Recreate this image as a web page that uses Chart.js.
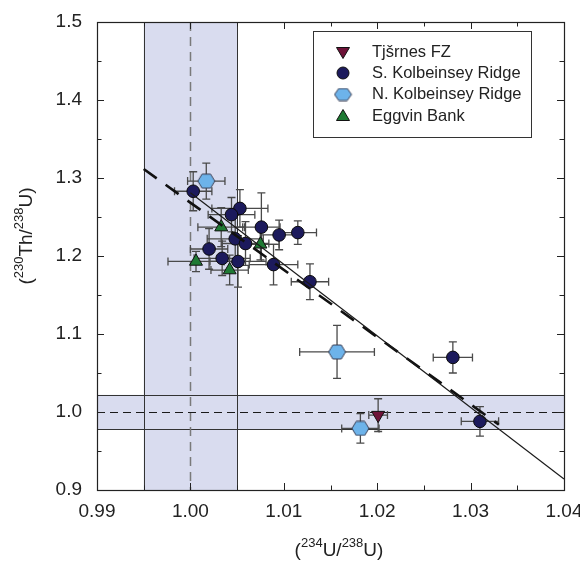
<!DOCTYPE html>
<html>
<head>
<meta charset="utf-8">
<script src="https://cdn.jsdelivr.net/npm/chart.js@4.4.0/dist/chart.umd.min.js"></script>
<style>
  html, body { margin: 0; padding: 0; background: #fff; }
  #chart { display: block; }
</style>
</head>
<body>
<canvas id="chart" width="580" height="563"></canvas>
<script>
// (234U/238U) vs (230Th/238U) activity ratios, Kolbeinsey Ridge area basalts

// Tjšrnes FZ
const tjornesX = [1.0201];
const tjornesY = [0.996];
const tjornesXErr = [0.0010];
const tjornesYErr = [0.021];

// S. Kolbeinsey Ridge
const southX = [1.0003, 1.0053, 1.0044, 1.0076, 1.0095, 1.0115, 1.0048, 1.0059,
                1.0020, 1.0034, 1.0051, 1.0089, 1.0128, 1.0281, 1.0310];
const southY = [1.283, 1.261, 1.253, 1.237, 1.227, 1.230, 1.222, 1.216,
                1.209, 1.197, 1.193, 1.189, 1.167, 1.070, 0.988];
const southXErr = [0.0020, 0.0030, 0.0025, 0.0020, 0.0020, 0.0020, 0.0030, 0.0025,
                   0.0020, 0.0030, 0.0030, 0.0026, 0.0020, 0.0021, 0.0020];
const southYErr = [0.025, 0.024, 0.022, 0.044, 0.019, 0.015, 0.030, 0.028,
                   0.026, 0.022, 0.033, 0.026, 0.023, 0.020, 0.019];

// N. Kolbeinsey Ridge
const northX = [1.0017, 1.0157, 1.0182];
const northY = [1.296, 1.077, 0.979];
const northXErr = [0.0020, 0.0040, 0.0020];
const northYErr = [0.023, 0.034, 0.019];

// Eggvin Bank
const eggvinX = [1.0033, 1.0075, 1.0006, 1.0042];
const eggvinY = [1.237, 1.215, 1.193, 1.182];
const eggvinXErr = [0.0025, 0.0020, 0.0030, 0.0020];
const eggvinYErr = [0.025, 0.020, 0.013, 0.019];

// regression lines
const fitSolidX = [1.0000, 1.0400];
const fitSolidY = [1.281, 0.914];
const fitDashX = [0.9950, 1.0330];
const fitDashY = [1.3115, 0.984];

// secular equilibrium bands
const uBand = [0.995, 1.005];
const thBand = [0.978, 1.022];
const equilibrium = 1.0;

const FONT = "'Liberation Sans', Arial, sans-serif";
const BAND_FILL = '#d9dcef';
const INK = '#222';

function toPoints(xs, ys) {
  return xs.map((v, i) => ({ x: v, y: ys[i] }));
}

// flat-topped hexagon marker
function hexagon(w, h, fill, stroke) {
  const c = document.createElement('canvas');
  c.width = w + 2;
  c.height = h + 2;
  const g = c.getContext('2d');
  const cx = c.width / 2, cy = c.height / 2, hw = w / 2, hh = h / 2, q = w / 4;
  g.beginPath();
  g.moveTo(cx - hw, cy);
  g.lineTo(cx - q, cy - hh);
  g.lineTo(cx + q, cy - hh);
  g.lineTo(cx + hw, cy);
  g.lineTo(cx + q, cy + hh);
  g.lineTo(cx - q, cy + hh);
  g.closePath();
  g.fillStyle = fill;
  g.fill();
  g.lineWidth = 1;
  g.strokeStyle = stroke;
  g.stroke();
  return c;
}

const hexBig = hexagon(17, 14, '#6db3ea', '#3a3f55');
const hexSmall = hexagon(17, 12, '#6db3ea', '#3a3f55');

// text with superscript parts, centred on (x, y)
function drawRich(ctx, parts, x, y, size) {
  const big = size + 'px ' + FONT;
  const small = Math.round(size * 0.68) + 'px ' + FONT;
  let total = 0;
  parts.forEach(p => {
    ctx.font = p[1] ? small : big;
    total += ctx.measureText(p[0]).width;
  });
  let cx = x - total / 2;
  ctx.textAlign = 'left';
  ctx.textBaseline = 'middle';
  parts.forEach(p => {
    ctx.font = p[1] ? small : big;
    ctx.fillText(p[0], cx, p[1] ? y - size * 0.38 : y);
    cx += ctx.measureText(p[0]).width;
  });
}

function crisp(v) {
  return Math.round(v) + 0.5;
}

const frame = {
  id: 'frame',
  beforeDatasetsDraw(chart) {
    const { ctx, chartArea: a, scales: { x, y } } = chart;
    ctx.save();

    // equilibrium bands
    ctx.fillStyle = BAND_FILL;
    const bx0 = x.getPixelForValue(uBand[0]), bx1 = x.getPixelForValue(uBand[1]);
    const by0 = y.getPixelForValue(thBand[1]), by1 = y.getPixelForValue(thBand[0]);
    ctx.fillRect(bx0, a.top, bx1 - bx0, a.bottom - a.top);
    ctx.fillRect(a.left, by0, a.right - a.left, by1 - by0);

    ctx.strokeStyle = '#333';
    ctx.lineWidth = 1;
    ctx.beginPath();
    [bx0, bx1].forEach(px => { ctx.moveTo(crisp(px), a.top); ctx.lineTo(crisp(px), a.bottom); });
    [by0, by1].forEach(py => { ctx.moveTo(a.left, crisp(py)); ctx.lineTo(a.right, crisp(py)); });
    ctx.stroke();

    // equilibrium lines
    const ex = crisp(x.getPixelForValue(equilibrium));
    ctx.strokeStyle = '#7a7a7a';
    ctx.lineWidth = 1.5;
    ctx.setLineDash([9, 6]);
    ctx.beginPath();
    ctx.moveTo(ex, a.top);
    ctx.lineTo(ex, a.bottom);
    ctx.stroke();

    const ey = crisp(y.getPixelForValue(equilibrium));
    ctx.strokeStyle = '#1a1a1a';
    ctx.lineWidth = 1.2;
    ctx.setLineDash([8, 5]);
    ctx.beginPath();
    ctx.moveTo(a.left, ey);
    ctx.lineTo(a.right, ey);
    ctx.stroke();
    ctx.setLineDash([]);

    // error bars
    ctx.strokeStyle = '#4a4a4a';
    ctx.lineWidth = 1.3;
    const cap = 4;
    chart.data.datasets.forEach(ds => {
      if (!ds.xErr) return;
      ds.data.forEach((p, i) => {
        const px = x.getPixelForValue(p.x), py = y.getPixelForValue(p.y);
        const xl = x.getPixelForValue(p.x - ds.xErr[i]), xr = x.getPixelForValue(p.x + ds.xErr[i]);
        const yt = y.getPixelForValue(p.y + ds.yErr[i]), yb = y.getPixelForValue(p.y - ds.yErr[i]);
        ctx.beginPath();
        ctx.moveTo(xl, py); ctx.lineTo(xr, py);
        ctx.moveTo(xl, py - cap); ctx.lineTo(xl, py + cap);
        ctx.moveTo(xr, py - cap); ctx.lineTo(xr, py + cap);
        ctx.moveTo(px, yt); ctx.lineTo(px, yb);
        ctx.moveTo(px - cap, yt); ctx.lineTo(px + cap, yt);
        ctx.moveTo(px - cap, yb); ctx.lineTo(px + cap, yb);
        ctx.stroke();
      });
    });
    ctx.restore();
  },
  afterDraw(chart) {
    const { ctx, chartArea: a, scales: { x, y } } = chart;
    ctx.save();

    // plot border
    ctx.strokeStyle = INK;
    ctx.lineWidth = 1.2;
    ctx.strokeRect(crisp(a.left), crisp(a.top), Math.round(a.right - a.left), Math.round(a.bottom - a.top));

    // inward ticks on all four sides, minor ticks halfway
    const major = 7, minor = 4.5;
    ctx.lineWidth = 1;
    ctx.beginPath();
    const xv = x.ticks.map(t => t.value);
    xv.forEach((v, i) => {
      const px = crisp(x.getPixelForValue(v));
      ctx.moveTo(px, a.bottom); ctx.lineTo(px, a.bottom - major);
      ctx.moveTo(px, a.top); ctx.lineTo(px, a.top + major);
      if (i < xv.length - 1) {
        const mx = crisp(x.getPixelForValue((v + xv[i + 1]) / 2));
        ctx.moveTo(mx, a.bottom); ctx.lineTo(mx, a.bottom - minor);
        ctx.moveTo(mx, a.top); ctx.lineTo(mx, a.top + minor);
      }
    });
    const yv = y.ticks.map(t => t.value);
    yv.forEach((v, i) => {
      const py = crisp(y.getPixelForValue(v));
      ctx.moveTo(a.left, py); ctx.lineTo(a.left + major, py);
      ctx.moveTo(a.right, py); ctx.lineTo(a.right - major, py);
      if (i < yv.length - 1) {
        const my = crisp(y.getPixelForValue((v + yv[i + 1]) / 2));
        ctx.moveTo(a.left, my); ctx.lineTo(a.left + minor, my);
        ctx.moveTo(a.right, my); ctx.lineTo(a.right - minor, my);
      }
    });
    ctx.stroke();

    // axis titles
    ctx.fillStyle = INK;
    drawRich(ctx, [['(', 0], ['234', 1], ['U/', 0], ['238', 1], ['U)', 0]], 339, 551, 19);
    ctx.save();
    ctx.translate(27, 236);
    ctx.rotate(-Math.PI / 2);
    drawRich(ctx, [['(', 0], ['230', 1], ['Th/', 0], ['238', 1], ['U)', 0]], 0, 0, 19);
    ctx.restore();

    // legend
    const lx = 313, ly = 31, lw = 218, lh = 106;
    ctx.fillStyle = '#fff';
    ctx.fillRect(lx, ly, lw, lh);
    ctx.strokeStyle = '#333';
    ctx.lineWidth = 1;
    ctx.strokeRect(lx + 0.5, ly + 0.5, lw, lh);

    const sx = 343, tx = 372;
    const rows = [52, 73, 94.5, 116];
    const names = ['Tjšrnes FZ', 'S. Kolbeinsey Ridge', 'N. Kolbeinsey Ridge', 'Eggvin Bank'];

    ctx.lineWidth = 1;
    ctx.strokeStyle = '#111';
    // down triangle
    ctx.beginPath();
    ctx.moveTo(sx - 6.5, rows[0] - 4.5);
    ctx.lineTo(sx + 6.5, rows[0] - 4.5);
    ctx.lineTo(sx, rows[0] + 6.5);
    ctx.closePath();
    ctx.fillStyle = '#6e1238';
    ctx.fill(); ctx.stroke();
    // circle
    ctx.beginPath();
    ctx.arc(sx, rows[1], 6, 0, Math.PI * 2);
    ctx.fillStyle = '#1c1a5c';
    ctx.fill(); ctx.stroke();
    // hexagon
    ctx.drawImage(hexSmall, sx - hexSmall.width / 2, rows[2] - hexSmall.height / 2);
    // up triangle
    ctx.beginPath();
    ctx.moveTo(sx - 6.5, rows[3] + 4.5);
    ctx.lineTo(sx + 6.5, rows[3] + 4.5);
    ctx.lineTo(sx, rows[3] - 6.5);
    ctx.closePath();
    ctx.fillStyle = '#1f7a34';
    ctx.fill(); ctx.stroke();

    ctx.fillStyle = INK;
    ctx.font = '16.5px ' + FONT;
    ctx.textAlign = 'left';
    ctx.textBaseline = 'middle';
    names.forEach((n, i) => ctx.fillText(n, tx, rows[i]));

    ctx.restore();
  }
};

const ctx = document.getElementById('chart').getContext('2d');

new Chart(ctx, {
  type: 'scatter',
  data: {
    datasets: [
      {
        label: 'regression',
        data: toPoints(fitSolidX, fitSolidY),
        showLine: true,
        borderColor: '#1a1a1a',
        borderWidth: 1.2,
        pointRadius: 0,
        order: 0
      },
      {
        label: 'regression (dashed)',
        data: toPoints(fitDashX, fitDashY),
        showLine: true,
        borderColor: '#111',
        borderWidth: 2.6,
        borderDash: [16, 11],
        pointRadius: 0,
        order: 0
      },
      {
        label: 'Tjšrnes FZ',
        data: toPoints(tjornesX, tjornesY),
        xErr: tjornesXErr,
        yErr: tjornesYErr,
        pointStyle: 'triangle',
        rotation: 180,
        pointRadius: 7.5,
        backgroundColor: '#6e1238',
        borderColor: '#111',
        borderWidth: 1,
        order: 1
      },
      {
        label: 'S. Kolbeinsey Ridge',
        data: toPoints(southX, southY),
        xErr: southXErr,
        yErr: southYErr,
        pointStyle: 'circle',
        pointRadius: 6.3,
        backgroundColor: '#1c1a5c',
        borderColor: '#0a0a0a',
        borderWidth: 1,
        order: 2
      },
      {
        label: 'N. Kolbeinsey Ridge',
        data: toPoints(northX, northY),
        xErr: northXErr,
        yErr: northYErr,
        pointStyle: hexBig,
        order: 1
      },
      {
        label: 'Eggvin Bank',
        data: toPoints(eggvinX, eggvinY),
        xErr: eggvinXErr,
        yErr: eggvinYErr,
        pointStyle: 'triangle',
        pointRadius: 7.5,
        backgroundColor: '#1f7a34',
        borderColor: '#111',
        borderWidth: 1,
        order: 1
      }
    ]
  },
  options: {
    responsive: false,
    animation: false,
    layout: {
      padding: { top: 22, right: 16, left: 0, bottom: 0 },
      autoPadding: false
    },
    plugins: {
      legend: { display: false },
      tooltip: { enabled: false }
    },
    scales: {
      x: {
        type: 'linear',
        min: 0.99,
        max: 1.04,
        grid: { display: false, drawTicks: false },
        border: { display: false },
        ticks: {
          stepSize: 0.01,
          padding: 10,
          maxRotation: 0,
          color: INK,
          font: { family: FONT, size: 19 },
          callback: v => v.toFixed(2)
        },
        afterFit(s) {
          s.height = 73;
          s.paddingLeft = 0;
          s.paddingRight = 0;
        }
      },
      y: {
        type: 'linear',
        min: 0.9,
        max: 1.5,
        grid: { display: false, drawTicks: false },
        border: { display: false },
        ticks: {
          stepSize: 0.1,
          padding: 15,
          color: INK,
          font: { family: FONT, size: 19 },
          callback: v => v.toFixed(1)
        },
        afterFit(s) {
          s.width = 97;
          s.paddingTop = 0;
          s.paddingBottom = 0;
        }
      }
    }
  },
  plugins: [frame]
});
</script>
</body>
</html>
